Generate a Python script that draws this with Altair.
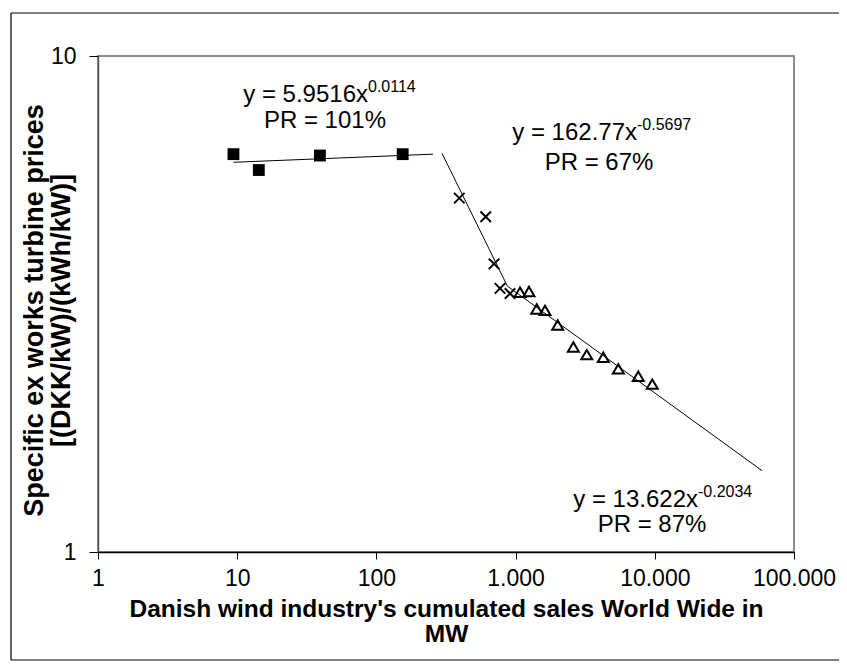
import altair as alt
import pandas as pd

# --- data ---
sq_x = [9.4, 14.3, 39.3, 154.5]
sq_y = [6.34, 5.89, 6.30, 6.34]
cr_x = [394, 610, 700, 773, 912]
cr_y = [5.17, 4.74, 3.81, 3.40, 3.32]
tr_x = [1076, 1248, 1418, 1626, 2006, 2600, 3243, 4266, 5470, 7610, 9590]
tr_y = [3.34, 3.35, 3.09, 3.07, 2.87, 2.59, 2.50, 2.47, 2.34, 2.26, 2.18]

fit_a = [5.9516, 162.77, 13.622]
fit_b = [0.0114, -0.5697, -0.2034]
fit_from = [9.4, 296, 870]
fit_to = [255, 870, 59000]

eq_main = ["y = 5.9516x", "y = 162.77x", "y = 13.622x"]
eq_exp = ["0.0114", "-0.5697", "-0.2034"]
eq_x = [87, 7450, 20430]
eq_y = [8.34, 7.0, 1.273]
pr_text = ["PR = 101%", "PR = 67%", "PR = 87%"]
pr_x = [42.7, 3973, 9550]
pr_y = [7.39, 6.085, 1.133]

x_ticks = [1, 10, 100, 1000, 10000, 100000]
y_ticks = [1, 10]

FONT = "Liberation Sans"
FS = 23
AFS = 24

xscale = alt.Scale(type="log", domain=[1, 100000], nice=False)
yscale = alt.Scale(type="log", domain=[1, 10], nice=False)

xaxis = alt.Axis(
    values=x_ticks,
    labelExpr="replace(format(datum.value, ','), ',', '.')",
    labelFont=FONT, labelFontSize=FS, labelColor="black",
    labelPadding=8, labelFlush=False, labelOverlap=False,
    tickColor="black", tickSize=7, domainColor="black", domainWidth=1.5,
    grid=False,
    title=["Danish wind industry's cumulated sales World Wide in", "MW"],
    titleFont=FONT, titleFontSize=24.5, titleFontWeight="bold", titleColor="black",
    titleBaseline="top", titleY=45, titleLineHeight=25,
)
yaxis = alt.Axis(
    values=y_ticks, format="d",
    labelFont=FONT, labelFontSize=FS, labelColor="black",
    labelPadding=13,
    tickColor="black", tickSize=9, domainColor="#555555", domainWidth=1.5,
    grid=False,
    title=["Specific ex works turbine prices", "[(DKK/kW)/(kWh/kW)]"],
    titleFont=FONT, titleFontSize=27, titleFontWeight="bold", titleColor="black",
    titleBaseline="top", titleAngle=270, titleX=-77, titleY=254,
    titleLineHeight=27, titleAlign="center",
)

X = lambda f: alt.X(f, type="quantitative", scale=xscale, axis=xaxis)
Y = lambda f: alt.Y(f, type="quantitative", scale=yscale, axis=yaxis)

sq = pd.DataFrame({"x": sq_x, "y": sq_y})
cr = pd.DataFrame({"x": cr_x, "y": cr_y})
tr = pd.DataFrame({"x": tr_x, "y": tr_y})

rows = []
for i in range(3):
    for xv in (fit_from[i], fit_to[i]):
        rows.append({"seg": i, "x": xv, "a": fit_a[i], "b": fit_b[i]})
fits = pd.DataFrame(rows)

eq = pd.DataFrame({"main": eq_main, "exp": eq_exp, "x": eq_x, "y": eq_y})
pr = pd.DataFrame({"t": pr_text, "x": pr_x, "y": pr_y})

one = pd.DataFrame({"k": [0]})
frame_top = alt.Chart(one).mark_rule(color="black", strokeWidth=1.2).encode(
    x=alt.value(-87), x2=alt.value(800), y=alt.value(-43))
frame_left = alt.Chart(one).mark_rule(color="black", strokeWidth=1.2).encode(
    x=alt.value(-87), y=alt.value(-43), y2=alt.value(604))
frame_bottom = alt.Chart(one).mark_rule(color="black", strokeWidth=1.2).encode(
    x=alt.value(-87), x2=alt.value(800), y=alt.value(604))

lines = alt.Chart(fits).transform_calculate(
    yv="datum.a * pow(datum.x, datum.b)"
).mark_line(color="black", strokeWidth=1).encode(
    x=X("x"), y=Y("yv"), detail="seg:N"
)

squares = alt.Chart(sq).mark_point(
    shape="square", filled=True, color="black", size=140, opacity=1
).encode(x=X("x"), y=Y("y"))

crosses = alt.Chart(cr).mark_point(
    shape="M-1,-1L1,1M-1,1L1,-1", filled=False, color="black", size=110,
    strokeWidth=2, opacity=1
).encode(x=X("x"), y=Y("y"))

tris = alt.Chart(tr).mark_point(
    shape="triangle-up", filled=False, color="black", size=120,
    strokeWidth=2, opacity=1
).encode(x=X("x"), y=Y("y"))

eq_main_t = alt.Chart(eq).mark_text(
    align="right", baseline="middle", font=FONT, fontSize=AFS, color="black"
).encode(x=X("x"), y=Y("y"), text="main:N")

eq_exp_t = alt.Chart(eq).mark_text(
    align="left", baseline="middle", font=FONT, fontSize=16, color="black", dy=-8
).encode(x=X("x"), y=Y("y"), text="exp:N")

pr_t = alt.Chart(pr).mark_text(
    align="center", baseline="middle", font=FONT, fontSize=AFS, color="black"
).encode(x=X("x"), y=Y("y"), text="t:N")

chart = alt.layer(
    frame_top, frame_left, frame_bottom, lines, squares, crosses, tris,
    eq_main_t, eq_exp_t, pr_t
).properties(
    width=696, height=496,
    autosize=alt.AutoSizeParams(type="none"),
    padding={"left": 90, "top": 48, "right": 45, "bottom": 109},
    background="white",
).configure_view(stroke="#8c8c8c", strokeWidth=2)

chart.save("out.html", embed_options={"renderer": "svg", "actions": False})
